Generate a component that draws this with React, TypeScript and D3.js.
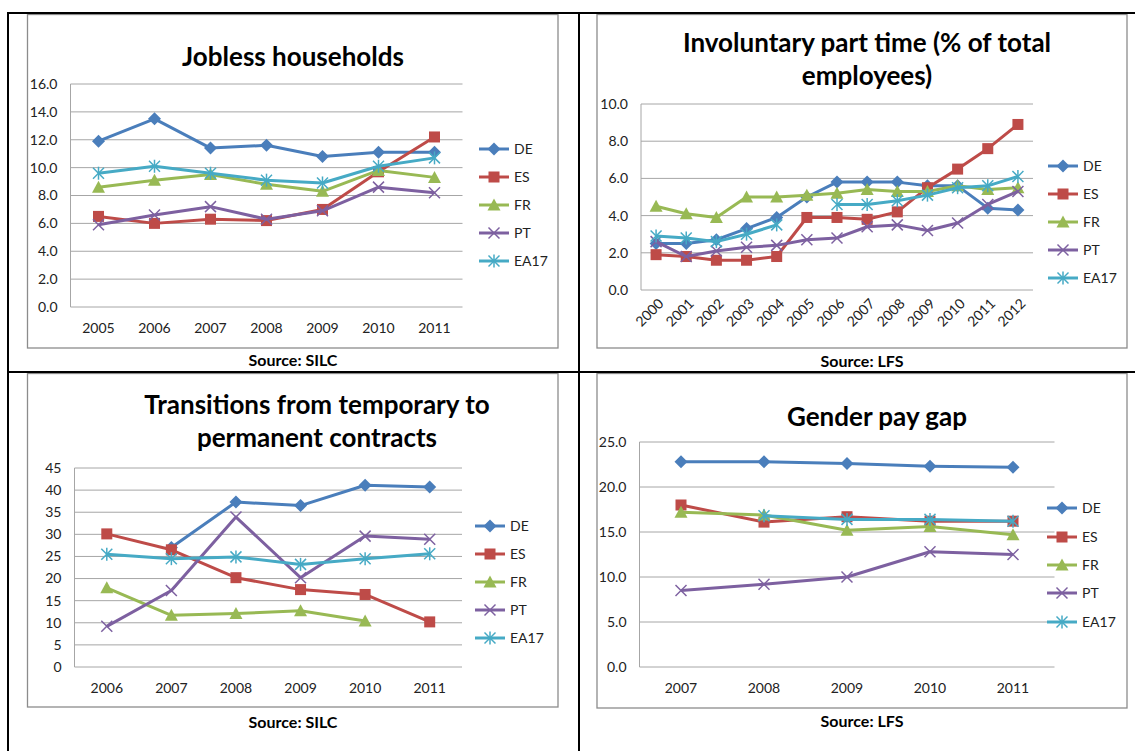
import React from "react";
import * as d3 from "d3";

// ---------- DATA ----------
const seriesNames = ["DE", "ES", "FR", "PT", "EA17"];

const joblessYears = ["2005", "2006", "2007", "2008", "2009", "2010", "2011"];
const joblessDE = [11.9, 13.5, 11.4, 11.6, 10.8, 11.1, 11.1];
const joblessES = [6.5, 6.0, 6.3, 6.2, 7.0, 9.7, 12.2];
const joblessFR = [8.6, 9.1, 9.5, 8.8, 8.3, 9.8, 9.3];
const joblessPT = [5.9, 6.6, 7.2, 6.3, 6.9, 8.6, 8.2];
const joblessEA17 = [9.6, 10.1, 9.6, 9.1, 8.9, 10.1, 10.7];
const joblessTicks = [0, 2, 4, 6, 8, 10, 12, 14, 16];

const ptYears = ["2000", "2001", "2002", "2003", "2004", "2005", "2006", "2007", "2008", "2009", "2010", "2011", "2012"];
const ptDE = [2.5, 2.5, 2.7, 3.3, 3.9, 5.0, 5.8, 5.8, 5.8, 5.6, 5.6, 4.4, 4.3];
const ptES = [1.9, 1.8, 1.6, 1.6, 1.8, 3.9, 3.9, 3.8, 4.2, 5.5, 6.5, 7.6, 8.9];
const ptFR = [4.5, 4.1, 3.9, 5.0, 5.0, 5.1, 5.2, 5.4, 5.3, 5.3, 5.6, 5.4, 5.5];
const ptPT = [2.6, 1.8, 2.1, 2.3, 2.4, 2.7, 2.8, 3.4, 3.5, 3.2, 3.6, 4.6, 5.3];
const ptEA17 = [2.9, 2.8, 2.6, 3.0, 3.5, null, 4.6, 4.6, 4.8, 5.1, 5.5, 5.6, 6.1];
const ptTicks = [0, 2, 4, 6, 8, 10];

const trYears = ["2006", "2007", "2008", "2009", "2010", "2011"];
const trDE = [null, 27.0, 37.3, 36.5, 41.1, 40.7];
const trES = [30.1, 26.5, 20.2, 17.5, 16.4, 10.2];
const trFR = [17.9, 11.7, 12.1, 12.7, 10.4, null];
const trPT = [9.2, 17.3, 33.9, 20.2, 29.6, 28.9];
const trEA17 = [25.5, 24.5, 24.9, 23.2, 24.5, 25.6];
const trTicks = [0, 5, 10, 15, 20, 25, 30, 35, 40, 45];

const gpYears = ["2007", "2008", "2009", "2010", "2011"];
const gpDE = [22.8, 22.8, 22.6, 22.3, 22.2];
const gpES = [18.0, 16.1, 16.7, 16.2, 16.2];
const gpFR = [17.2, 16.9, 15.2, 15.6, 14.7];
const gpPT = [8.5, 9.2, 10.0, 12.8, 12.5];
const gpEA17 = [null, 16.8, 16.4, 16.4, 16.2];
const gpTicks = [0, 5, 10, 15, 20, 25];

// ---------- STYLE ----------
const COLORS = ["#4A7EBB", "#BE4B48", "#98B954", "#7D60A0", "#46AAC5"];
const SHAPES = ["diamond", "square", "triangle", "x", "star"];
const FONT = "Lato, 'Open Sans', sans-serif";
const GRID = "#a6a6a6";
const TICK_FS = 14;
const TITLE_FS = 26;

function Marker({ shape, cx, cy, color }: { shape: string; cx: number; cy: number; color: string }) {
  if (shape === "diamond") {
    const r = 6.5;
    return <polygon points={`${cx},${cy - r} ${cx + r},${cy} ${cx},${cy + r} ${cx - r},${cy}`} fill={color} />;
  }
  if (shape === "square") {
    const r = 5.5;
    return <rect x={cx - r} y={cy - r} width={2 * r} height={2 * r} fill={color} />;
  }
  if (shape === "triangle") {
    return <polygon points={`${cx},${cy - 6.5} ${cx + 6.5},${cy + 5.5} ${cx - 6.5},${cy + 5.5}`} fill={color} />;
  }
  const r = 5.5;
  return (
    <g stroke={color} strokeWidth={1.5} fill="none">
      <line x1={cx - r} y1={cy - r} x2={cx + r} y2={cy + r} />
      <line x1={cx - r} y1={cy + r} x2={cx + r} y2={cy - r} />
      {shape === "star" && <line x1={cx} y1={cy - r - 1} x2={cx} y2={cy + r + 1} />}
    </g>
  );
}

type PanelProps = {
  frame: [number, number, number, number];
  plot: { left: number; right: number; top: number; bottom: number };
  cats: string[];
  values: (number | null)[][];
  ticks: number[];
  fmt: (v: number) => string;
  titleLines: { text: string; y: number }[];
  titleX: number;
  legendX: number;
  legendY: number[];
  source: { text: string; x: number; y: number };
  rotate?: boolean;
  xLabelY: number;
};

function Panel(p: PanelProps) {
  const x = d3.scaleBand<string>().domain(p.cats).range([p.plot.left, p.plot.right]);
  const y = d3
    .scaleLinear()
    .domain([0, p.ticks[p.ticks.length - 1]])
    .range([p.plot.bottom, p.plot.top]);
  const cx = (c: string) => (x(c) as number) + x.bandwidth() / 2;
  const line = d3
    .line<number | null>()
    .defined((d) => d !== null)
    .x((_, i) => cx(p.cats[i]))
    .y((d) => y(d as number));
  const [fx0, fy0, fx1, fy1] = p.frame;
  return (
    <g>
      <rect x={fx0} y={fy0} width={fx1 - fx0} height={fy1 - fy0} fill="#fff" stroke="#8c8c8c" strokeWidth={1.3} />
      {p.titleLines.map((t, i) => (
        <text key={i} x={p.titleX} y={t.y} dy="0.35em" textAnchor="middle" fontFamily={FONT} fontWeight={700} fontSize={TITLE_FS} fill="#000">
          {t.text}
        </text>
      ))}
      {p.ticks.map((t) => (
        <g key={t}>
          <line x1={p.plot.left} x2={p.plot.right} y1={y(t)} y2={y(t)} stroke={GRID} strokeWidth={1} />
          <text x={p.plot.left - 13} y={y(t)} dy="0.35em" textAnchor="end" fontFamily={FONT} fontSize={TICK_FS} fill="#222">
            {p.fmt(t)}
          </text>
        </g>
      ))}
      <line x1={p.plot.left} x2={p.plot.left} y1={p.plot.top} y2={p.plot.bottom} stroke={GRID} strokeWidth={1} />
      {p.cats.map((c) =>
        p.rotate ? (
          <text
            key={c}
            transform={`translate(${cx(c) + 5},${p.xLabelY}) rotate(-45)`}
            dy="0.35em"
            textAnchor="end"
            fontFamily={FONT}
            fontSize={TICK_FS}
            fill="#222"
          >
            {c}
          </text>
        ) : (
          <text key={c} x={cx(c)} y={p.xLabelY} dy="0.35em" textAnchor="middle" fontFamily={FONT} fontSize={TICK_FS} fill="#222">
            {c}
          </text>
        )
      )}
      {p.values.map((vals, si) => (
        <g key={si}>
          <path d={line(vals) || ""} fill="none" stroke={COLORS[si]} strokeWidth={3} strokeLinejoin="round" />
          {vals.map((v, i) =>
            v === null ? null : <Marker key={i} shape={SHAPES[si]} cx={cx(p.cats[i])} cy={y(v)} color={COLORS[si]} />
          )}
        </g>
      ))}
      {seriesNames.map((n, si) => (
        <g key={n}>
          <line x1={p.legendX} x2={p.legendX + 30} y1={p.legendY[si]} y2={p.legendY[si]} stroke={COLORS[si]} strokeWidth={3} />
          <Marker shape={SHAPES[si]} cx={p.legendX + 15} cy={p.legendY[si]} color={COLORS[si]} />
          <text x={p.legendX + 35} y={p.legendY[si]} dy="0.35em" fontFamily={FONT} fontSize={TICK_FS} fill="#222">
            {n}
          </text>
        </g>
      ))}
      <text x={p.source.x} y={p.source.y} dy="0.35em" textAnchor="middle" fontFamily={FONT} fontWeight={700} fontSize={16} fill="#000">
        {p.source.text}
      </text>
    </g>
  );
}

const f1 = d3.format(".1f");
const f0 = d3.format("d");

export default function App() {
  return (
    <svg width={1135} height={751} style={{ position: "absolute", left: 0, top: 0, background: "#fff" }}>
      <rect x={0} y={0} width={1135} height={751} fill="#fff" />
      <Panel
        frame={[27.5, 14.5, 558, 348]}
        plot={{ left: 70.5, right: 462.5, top: 84, bottom: 307 }}
        cats={joblessYears}
        values={[joblessDE, joblessES, joblessFR, joblessPT, joblessEA17]}
        ticks={joblessTicks}
        fmt={f1}
        titleLines={[{ text: "Jobless households", y: 57 }]}
        titleX={293}
        legendX={479}
        legendY={[149, 177, 205, 233, 261]}
        source={{ text: "Source: SILC", x: 293, y: 360 }}
        xLabelY={328}
      />
      <Panel
        frame={[597, 14.5, 1127, 348]}
        plot={{ left: 641, right: 1033, top: 104, bottom: 290 }}
        cats={ptYears}
        values={[ptDE, ptES, ptFR, ptPT, ptEA17]}
        ticks={ptTicks}
        fmt={f1}
        titleLines={[
          { text: "Involuntary part time (% of total", y: 43 },
          { text: "employees)", y: 76 },
        ]}
        titleX={867}
        legendX={1048}
        legendY={[166, 194, 222, 250, 278]}
        source={{ text: "Source: LFS", x: 862, y: 361 }}
        rotate
        xLabelY={301}
      />
      <Panel
        frame={[27.5, 373.5, 558, 707]}
        plot={{ left: 74.5, right: 462, top: 468, bottom: 667 }}
        cats={trYears}
        values={[trDE, trES, trFR, trPT, trEA17]}
        ticks={trTicks}
        fmt={f0}
        titleLines={[
          { text: "Transitions from temporary to", y: 405 },
          { text: "permanent contracts", y: 438 },
        ]}
        titleX={317}
        legendX={475}
        legendY={[526, 554, 582, 610, 638]}
        source={{ text: "Source: SILC", x: 293, y: 722 }}
        xLabelY={688}
      />
      <Panel
        frame={[597, 373.5, 1127, 708]}
        plot={{ left: 639.5, right: 1054.5, top: 442, bottom: 667 }}
        cats={gpYears}
        values={[gpDE, gpES, gpFR, gpPT, gpEA17]}
        ticks={gpTicks}
        fmt={f1}
        titleLines={[{ text: "Gender pay gap", y: 417 }]}
        titleX={877}
        legendX={1047}
        legendY={[508, 537, 565, 593, 622]}
        source={{ text: "Source: LFS", x: 862, y: 721 }}
        xLabelY={688}
      />
      {/* table borders */}
      <line x1={7} x2={1135} y1={13} y2={13} stroke="#000" strokeWidth={2} />
      <line x1={8} x2={8} y1={12} y2={751} stroke="#000" strokeWidth={2} />
      <line x1={579} x2={579} y1={12} y2={751} stroke="#000" strokeWidth={2} />
      <line x1={7} x2={1135} y1={372} y2={372} stroke="#000" strokeWidth={2} />
    </svg>
  );
}
